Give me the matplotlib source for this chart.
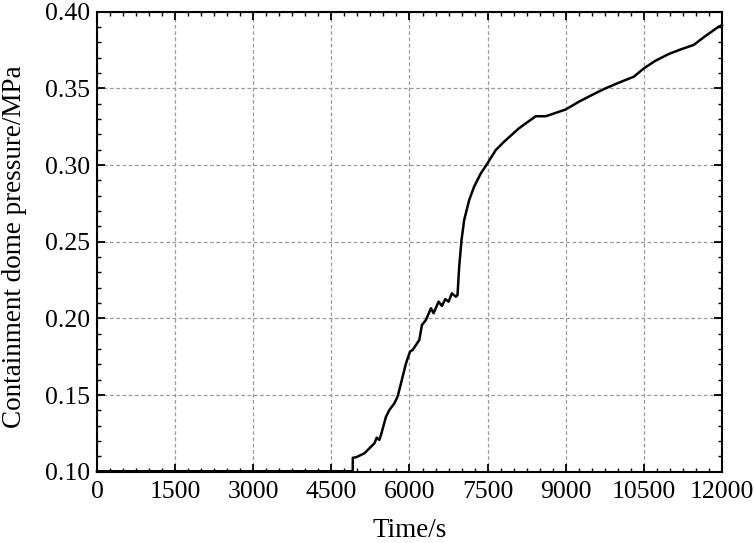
import matplotlib
matplotlib.use("Agg")
import matplotlib.pyplot as plt
from matplotlib.ticker import MultipleLocator

plt.rcParams['font.family'] = ['Liberation Serif', 'DejaVu Serif']

time_s = [0, 4910, 4912, 4974, 5134, 5326, 5370, 5421, 5453, 5549, 5613, 5709, 5772, 5837,
          5933, 6010, 6061, 6188, 6239, 6316, 6412, 6462, 6558, 6622, 6686, 6750, 6814,
          6891, 6922, 6954, 6999, 7050, 7146, 7241, 7370, 7497, 7657, 7816, 8103, 8423,
          8615, 8998, 9253, 9604, 9764, 10019, 10307, 10498, 10722, 10977, 11232, 11456,
          11680, 11935, 12000]
pressure_mpa = [0.1003, 0.1003, 0.1091, 0.1094, 0.1120, 0.1185, 0.1222, 0.1207, 0.1240, 0.1359,
                0.1402, 0.1446, 0.1490, 0.1577, 0.1707, 0.1783, 0.1794, 0.1859, 0.1957,
                0.1990, 0.2066, 0.2033, 0.2109, 0.2081, 0.2125, 0.2109, 0.2163, 0.2141,
                0.2152, 0.2337, 0.2511, 0.2642, 0.2772, 0.2859, 0.2946, 0.3011, 0.3098,
                0.3152, 0.3240, 0.3318, 0.3318, 0.3362, 0.3413, 0.3474, 0.3500, 0.3537,
                0.3576, 0.3630, 0.3680, 0.3724, 0.3757, 0.3783, 0.3841, 0.3902, 0.3912]

x_ticks = [0, 1500, 3000, 4500, 6000, 7500, 9000, 10500, 12000]
y_ticks = [0.10, 0.15, 0.20, 0.25, 0.30, 0.35, 0.40]

fig = plt.figure(figsize=(7.54, 5.43), dpi=100)
ax = fig.add_axes([0.1286, 0.1313, 0.8290, 0.8472])

ax.plot(time_s, pressure_mpa, color='black', lw=1.8, clip_on=False, zorder=3)

ax.set_xlim(0, 12000)
ax.set_ylim(0.10, 0.40)
ax.set_xticks(x_ticks)
ax.set_yticks(y_ticks)
ax.set_yticklabels([f"{v:.2f}" for v in y_ticks])
ax.xaxis.set_minor_locator(MultipleLocator(250))
ax.yaxis.set_minor_locator(MultipleLocator(0.01))

ax.grid(True, which='major', linestyle=(0, (3, 2)), color='#9a9a9a', lw=0.9)
ax.tick_params(which='both', direction='in', top=True, right=True, labelsize=18.5, colors='black')
ax.tick_params(axis='x', which='major', pad=7)
ax.tick_params(axis='y', which='major', pad=5)
ax.tick_params(which='major', length=5.5, width=1.3)
ax.tick_params(which='minor', length=3, width=1.0)
for s in ax.spines.values():
    s.set_linewidth(1.5)

ax.set_xlabel('Time/s', fontsize=19.5)
ax.set_ylabel('Containment dome pressure/MPa', fontsize=19.5)
ax.xaxis.set_label_coords(0.5, -0.101)
ax.yaxis.set_label_coords(-0.112, 0.489)

fig.savefig('out.png', dpi=100)
